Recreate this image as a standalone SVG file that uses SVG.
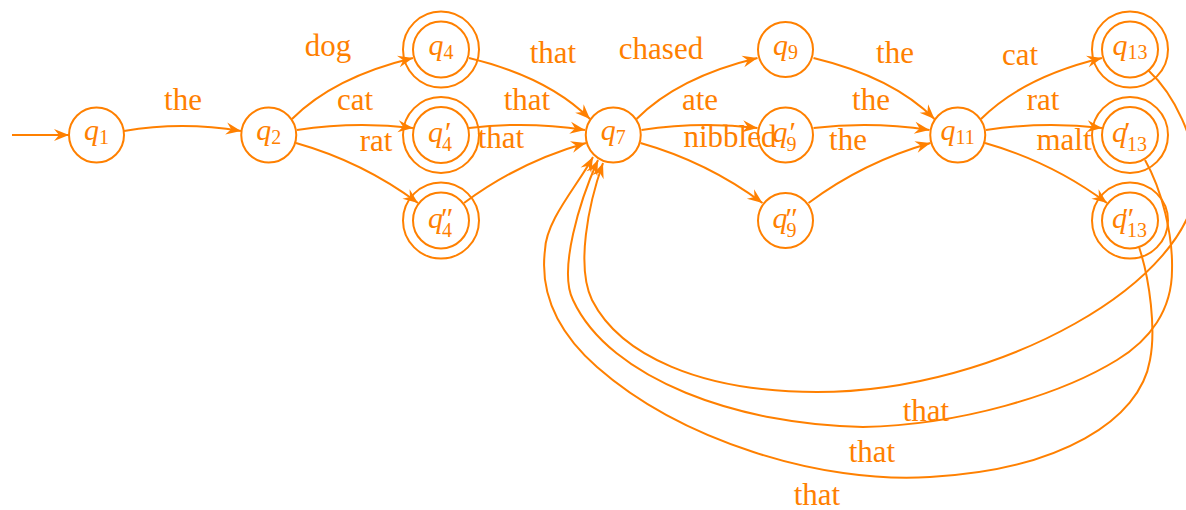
<svg xmlns="http://www.w3.org/2000/svg" width="1186" height="510" viewBox="0 0 1186 510">
<defs>
<marker id="ah" markerUnits="userSpaceOnUse" orient="auto" viewBox="-16 -8 18 16" markerWidth="18" markerHeight="16" refX="0" refY="0">
<path d="M0,0 L-15,-6 L-10,0 L-15,6 Z" fill="#ff8000"/>
</marker>
</defs>
<style>
.e{fill:none;stroke:#ff8000;stroke-width:2;marker-end:url(#ah)}
.n{fill:none;stroke:#ff8000;stroke-width:2}
.lb{font-family:"Liberation Serif","Times New Roman",serif;font-size:31px;fill:#ff8000;text-anchor:middle}
.nl{font-family:"Liberation Serif","DejaVu Serif",serif;fill:#ff8000}
.q{font-style:italic;font-size:30px}
.s{font-size:20px}
.p{font-size:30px}
</style>
<rect width="1186" height="510" fill="#fff"/>
<g id="connectors">
<path class="e" d="M12,135 L69,135"/>
<path class="e" d="M124,131 Q182,121 241,131"/>
<g id="grpA">
<path class="e" d="M292,119 Q334,77 413,58"/>
<path class="e" d="M297,130 Q355,121 413,128"/>
<path class="e" d="M296,143 Q363,162 418,203"/>
<path class="e" d="M469,58 Q548,77 590,119"/>
<path class="e" d="M469,128 Q527,121 585,130"/>
<path class="e" d="M464,203 Q519,162 586,143"/>
</g>
<g id="grpB" transform="translate(344.5,0)">
<path class="e" d="M292,119 Q334,77 413,58"/>
<path class="e" d="M297,130 Q355,121 413,128"/>
<path class="e" d="M296,143 Q363,162 418,203"/>
<path class="e" d="M469,58 Q548,77 590,119"/>
<path class="e" d="M469,128 Q527,121 585,130"/>
<path class="e" d="M464,203 Q519,162 586,143"/>
</g>
<g id="grpC" transform="translate(689,0)">
<path class="e" d="M292,119 Q334,77 413,58"/>
<path class="e" d="M297,130 Q355,121 413,128"/>
<path class="e" d="M296,143 Q363,162 418,203"/>
</g>
<path class="e" d="M1148,70 C1175,95 1196,140 1196,180 C1196,280 1000,392 817,392 C700,392 620,355 592,300 C576,267 588,205 603,163"/>
<path class="e" d="M1145,160 C1162,190 1173,235 1172,270 C1172,310 1150,340 1117,360 C1060,395 960,425 863,427 C740,425 610,380 573,300 C558,270 580,200 598,160"/>
<path class="e" d="M1139,247 C1150,280 1156,330 1150,360 C1140,420 1060,470 930,477 C820,484 680,440 597,367 C555,330 540,290 545,250 C546,220 578,185 593,157"/>
<g id="edge-labels">
<text class="lb" x="183" y="110">the</text>
<text class="lb" x="328" y="56">dog</text>
<text class="lb" x="355" y="110">cat</text>
<text class="lb" x="376" y="151">rat</text>
<text class="lb" x="553" y="63">that</text>
<text class="lb" x="527" y="110">that</text>
<text class="lb" x="501" y="148">that</text>
<text class="lb" x="661" y="59">chased</text>
<text class="lb" x="700" y="110">ate</text>
<text class="lb" x="730" y="147">nibbled</text>
<text class="lb" x="895" y="63">the</text>
<text class="lb" x="871" y="110">the</text>
<text class="lb" x="848" y="150">the</text>
<text class="lb" x="1020" y="65">cat</text>
<text class="lb" x="1043" y="110">rat</text>
<text class="lb" x="1064" y="150">malt</text>
<text class="lb" x="926" y="421">that</text>
<text class="lb" x="872" y="462">that</text>
<text class="lb" x="817" y="505">that</text>
</g>
</g>
<g id="q1"><circle class="n" cx="96.5" cy="135" r="27.5"/><text class="nl" x="96.5" y="140" text-anchor="middle"><tspan class="q">q</tspan><tspan class="s" dy="4">1</tspan></text></g>
<g id="q2"><circle class="n" cx="268.75" cy="135" r="27.5"/><text class="nl" x="268.75" y="140" text-anchor="middle"><tspan class="q">q</tspan><tspan class="s" dy="4">2</tspan></text></g>
<g id="q4"><circle class="n" cx="441" cy="49.5" r="38"/><circle class="n" cx="441" cy="49.5" r="28"/><text class="nl" x="441" y="54.5" text-anchor="middle"><tspan class="q">q</tspan><tspan class="s" dy="4">4</tspan></text></g>
<g id="q4p"><circle class="n" cx="441" cy="135" r="38"/><circle class="n" cx="441" cy="135" r="28"/><text class="nl"><tspan class="q" x="428" y="142">q</tspan><tspan class="p" x="445" y="142">′</tspan><tspan class="s" x="442" y="151">4</tspan></text></g>
<g id="q4pp"><circle class="n" cx="441" cy="220.5" r="38"/><circle class="n" cx="441" cy="220.5" r="28"/><text class="nl"><tspan class="q" x="428" y="227.5">q</tspan><tspan class="p" x="441" y="227.5">″</tspan><tspan class="s" x="442" y="236.5">4</tspan></text></g>
<g id="q7"><circle class="n" cx="613.25" cy="135" r="27.5"/><text class="nl" x="613.25" y="140" text-anchor="middle"><tspan class="q">q</tspan><tspan class="s" dy="4">7</tspan></text></g>
<g id="q9"><circle class="n" cx="785.5" cy="49.5" r="27.5"/><text class="nl" x="785.5" y="54.5" text-anchor="middle"><tspan class="q">q</tspan><tspan class="s" dy="4">9</tspan></text></g>
<g id="q9p"><circle class="n" cx="785.5" cy="135" r="27.5"/><text class="nl"><tspan class="q" x="772.5" y="142">q</tspan><tspan class="p" x="789.5" y="142">′</tspan><tspan class="s" x="786.5" y="151">9</tspan></text></g>
<g id="q9pp"><circle class="n" cx="785.5" cy="220.5" r="27.5"/><text class="nl"><tspan class="q" x="772.5" y="227.5">q</tspan><tspan class="p" x="785.5" y="227.5">″</tspan><tspan class="s" x="786.5" y="236.5">9</tspan></text></g>
<g id="q11"><circle class="n" cx="957.75" cy="135" r="27.5"/><text class="nl" x="957.75" y="140" text-anchor="middle"><tspan class="q">q</tspan><tspan class="s" dy="4">11</tspan></text></g>
<g id="q13"><circle class="n" cx="1130" cy="49.5" r="38"/><circle class="n" cx="1130" cy="49.5" r="28"/><text class="nl" x="1130" y="54.5" text-anchor="middle"><tspan class="q">q</tspan><tspan class="s" dy="4">13</tspan></text></g>
<g id="q13p"><circle class="n" cx="1130" cy="135" r="38"/><circle class="n" cx="1130" cy="135" r="28"/><text class="nl"><tspan class="q" x="1112" y="142">q</tspan><tspan class="p" x="1124" y="142">′</tspan><tspan class="s" x="1127" y="151">13</tspan></text></g>
<g id="q13pp"><circle class="n" cx="1130" cy="220.5" r="38"/><circle class="n" cx="1130" cy="220.5" r="28"/><text class="nl"><tspan class="q" x="1112" y="227.5">q</tspan><tspan class="p" x="1122" y="227.5">″</tspan><tspan class="s" x="1127" y="236.5">13</tspan></text></g>
</svg>
